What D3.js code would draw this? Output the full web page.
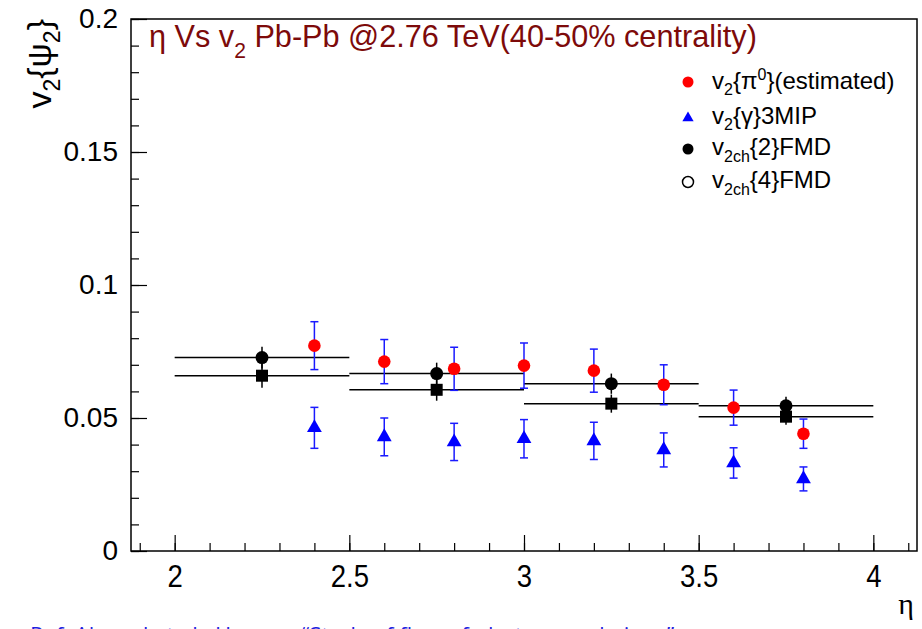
<!DOCTYPE html>
<html lang="en">
<head>
    <meta charset="UTF-8">
    <title>eta vs v2</title>
    <script src="https://d3js.org/d3.v7.min.js"></script>
    <style>
        body { margin: 0; background: white; }
        svg { display: block; }
        text { font-family: "Liberation Sans", Arial, sans-serif; }
    </style>
</head>
<body>
    <svg width="922" height="629"></svg>
    <script>
        // pi0 (estimated) and gamma 3MIP, same eta bins
        var etaPi0 = [2.4, 2.6, 2.8, 3.0, 3.2, 3.4, 3.6, 3.8];
        var v2Pi0 = [0.0772, 0.0712, 0.0685, 0.0697, 0.0678, 0.0625, 0.0539, 0.0441];
        var errPi0 = [0.0090, 0.0083, 0.0081, 0.0085, 0.0081, 0.0075, 0.0066, 0.0055];
        var v2Gamma = [0.0463, 0.0429, 0.0410, 0.0422, 0.0414, 0.0380, 0.0331, 0.0271];
        var errGamma = [0.0077, 0.0071, 0.0070, 0.0072, 0.0070, 0.0064, 0.0057, 0.0045];

        // charged v2 from FMD
        var etaFmd = [2.25, 2.75, 3.25, 3.75];
        var etaFmdErr = [0.25, 0.25, 0.25, 0.25];
        var v2Fmd2 = [0.0727, 0.0667, 0.0629, 0.0546];
        var errFmd2 = [0.0041, 0.0041, 0.0038, 0.0034];
        var v2Fmd4 = [0.0659, 0.0606, 0.0554, 0.0505];
        var errFmd4 = [0.0045, 0.0041, 0.0034, 0.0030];

        var xTicks = [2, 2.5, 3, 3.5, 4];
        var yTicks = [0, 0.05, 0.1, 0.15, 0.2];

        drawChart();

        // squeeze a text horizontally so it fills a given width
        function squeeze(sel, x0, y0, w) {
            var len = sel.node().getComputedTextLength();
            sel.attr('x', 0).attr('y', 0)
                .attr('transform', 'translate(' + x0 + ',' + y0 + ') scale(' + (w / len) + ',1)');
        }

        function drawChart() {
            var svg = d3.select('svg');
            var pl = 131, pr = 917, pt = 19, pb = 551;

            var x = d3.scaleLinear().domain([1.875, 4.125]).range([pl, pr]);
            var y = d3.scaleLinear().domain([0, 0.2]).range([pb, pt]);

            // frame
            svg.append('rect')
                .attr('x', pl).attr('y', pt)
                .attr('width', pr - pl).attr('height', pb - pt)
                .style('fill', 'none').style('stroke', 'black').style('stroke-width', '1.5px');

            // x axis: minor then major ticks (pointing in)
            var xMinor = d3.range(19, 42).map(d => d / 10);
            svg.append('g')
                .attr('transform', 'translate(0,' + pb + ')')
                .call(d3.axisBottom(x).tickValues(xMinor).tickSize(-8).tickFormat(''))
                .call(g => g.select('.domain').remove());
            var xAxis = svg.append('g')
                .attr('transform', 'translate(0,' + pb + ')')
                .call(d3.axisBottom(x).tickValues(xTicks).tickSize(-16).tickFormat(d3.format('')))
                .call(g => g.select('.domain').remove());
            xAxis.selectAll('text')
                .attr('y', 0).attr('dy', null)
                .attr('transform', 'translate(0,36) scale(0.86,1)')
                .style('font-size', '32px');

            var yMinor = d3.range(0, 21).map(d => d / 100);
            svg.append('g')
                .attr('transform', 'translate(' + pl + ',0)')
                .call(d3.axisLeft(y).tickValues(yMinor).tickSize(-8).tickFormat(''))
                .call(g => g.select('.domain').remove());
            var yAxis = svg.append('g')
                .attr('transform', 'translate(' + pl + ',0)')
                .call(d3.axisLeft(y).tickValues(yTicks).tickSize(-16).tickPadding(13).tickFormat(d3.format('')))
                .call(g => g.select('.domain').remove());
            yAxis.selectAll('text').style('font-size', '28px');
            svg.selectAll('.tick line').style('stroke', 'black').style('stroke-width', '1.2px');

            // axis titles
            svg.append('text')
                .attr('x', 914).attr('y', 614)
                .attr('text-anchor', 'end')
                .style('font-family', '"Liberation Serif", serif')
                .style('font-size', '30px')
                .text('η');

            var yTitle = svg.append('text')
                .attr('transform', 'translate(51,19) rotate(-90)')
                .attr('text-anchor', 'end')
                .style('font-size', '34px');
            yTitle.append('tspan').text('v');
            yTitle.append('tspan').attr('dy', 9).style('font-size', '23px').text('2');
            yTitle.append('tspan').attr('dy', -9).text('{ψ');
            yTitle.append('tspan').attr('dy', 9).style('font-size', '23px').text('2');
            yTitle.append('tspan').attr('dy', -9).text('}');

            // title
            var title = svg.append('text')
                .style('fill', '#7d0a0a')
                .style('font-size', '32px');
            title.append('tspan').text('η Vs v');
            title.append('tspan').attr('dy', 11).style('font-size', '22px').text('2');
            title.append('tspan').attr('dy', -11).text(' Pb-Pb @2.76 TeV(40-50% centrality)');
            squeeze(title, 149, 47, 608);

            // FMD x-error lines and y-error lines
            var fmd = etaFmd.map((e, i) => ({ eta: e, ex: etaFmdErr[i], v2: v2Fmd2[i], e2: errFmd2[i], v4: v2Fmd4[i], e4: errFmd4[i] }));
            var fmdG = svg.append('g').style('stroke', 'black').style('stroke-width', '1.5px');
            ['v2', 'v4'].forEach(k => {
                fmdG.selectAll('line.h' + k)
                    .data(fmd).enter().append('line')
                    .attr('x1', d => x(d.eta - d.ex)).attr('x2', d => x(d.eta + d.ex))
                    .attr('y1', d => y(d[k])).attr('y2', d => y(d[k]));
            });
            fmdG.selectAll('line.e2')
                .data(fmd).enter().append('line')
                .attr('x1', d => x(d.eta)).attr('x2', d => x(d.eta))
                .attr('y1', d => y(d.v2 + d.e2)).attr('y2', d => y(d.v2 - d.e2));
            fmdG.selectAll('line.e4')
                .data(fmd).enter().append('line')
                .attr('x1', d => x(d.eta)).attr('x2', d => x(d.eta))
                .attr('y1', d => y(d.v4 + d.e4)).attr('y2', d => y(d.v4 - d.e4));

            // blue error bars with caps
            var pts = etaPi0.map((e, i) => ({ eta: e, pi: v2Pi0[i], ep: errPi0[i], g: v2Gamma[i], eg: errGamma[i] }));
            function errBars(val, err) {
                var g = svg.append('g').style('stroke', '#1a1aff').style('stroke-width', '1.5px');
                g.selectAll('line.v').data(pts).enter().append('line')
                    .attr('x1', d => x(d.eta)).attr('x2', d => x(d.eta))
                    .attr('y1', d => y(d[val] + d[err])).attr('y2', d => y(d[val] - d[err]));
                [1, -1].forEach(s => {
                    g.selectAll('line.c' + (s > 0 ? 'u' : 'd')).data(pts).enter().append('line')
                        .attr('x1', d => x(d.eta) - 4).attr('x2', d => x(d.eta) + 4)
                        .attr('y1', d => y(d[val] + s * d[err])).attr('y2', d => y(d[val] + s * d[err]));
                });
            }
            errBars('pi', 'ep');
            errBars('g', 'eg');

            // markers
            var tri = d3.symbol().type(d3.symbolTriangle).size(95);
            svg.selectAll('path.gamma').data(pts).enter().append('path')
                .attr('d', tri)
                .attr('transform', d => 'translate(' + x(d.eta) + ',' + y(d.g) + ')')
                .style('fill', '#0000ff');
            svg.selectAll('circle.pi').data(pts).enter().append('circle')
                .attr('cx', d => x(d.eta)).attr('cy', d => y(d.pi)).attr('r', 6.3)
                .style('fill', '#ff0000');
            svg.selectAll('circle.fmd2').data(fmd).enter().append('circle')
                .attr('cx', d => x(d.eta)).attr('cy', d => y(d.v2)).attr('r', 6.5)
                .style('fill', 'black');
            svg.selectAll('rect.fmd4').data(fmd).enter().append('rect')
                .attr('x', d => x(d.eta) - 6).attr('y', d => y(d.v4) - 6)
                .attr('width', 12).attr('height', 12)
                .style('fill', 'black');

            // legend
            var leg = svg.append('g').style('font-size', '24px');
            var lx = 688, tx = 712;
            leg.append('circle').attr('cx', lx).attr('cy', 82).attr('r', 5.5).style('fill', '#ff0000');
            leg.append('path').attr('d', d3.symbol().type(d3.symbolTriangle).size(55))
                .attr('transform', 'translate(' + lx + ',118)').style('fill', '#0000ff');
            leg.append('circle').attr('cx', lx).attr('cy', 149).attr('r', 5.5).style('fill', 'black');
            leg.append('circle').attr('cx', lx).attr('cy', 182).attr('r', 5.5)
                .style('fill', 'none').style('stroke', 'black').style('stroke-width', '1.5px');

            var t1 = leg.append('text').attr('x', tx).attr('y', 89);
            t1.append('tspan').text('v');
            t1.append('tspan').attr('dy', 6).style('font-size', '16px').text('2');
            t1.append('tspan').attr('dy', -6).text('{π');
            t1.append('tspan').attr('dy', -9).style('font-size', '16px').text('0');
            t1.append('tspan').attr('dy', 9).text('}(estimated)');

            var t2 = leg.append('text').attr('x', tx).attr('y', 124);
            t2.append('tspan').text('v');
            t2.append('tspan').attr('dy', 6).style('font-size', '16px').text('2');
            t2.append('tspan').attr('dy', -6).text('{γ}3MIP');

            [['2', 155], ['4', 188]].forEach(r => {
                var t = leg.append('text').attr('x', tx).attr('y', r[1]);
                t.append('tspan').text('v');
                t.append('tspan').attr('dy', 7).style('font-size', '16px').text('2ch');
                t.append('tspan').attr('dy', -7).text('{' + r[0] + '}FMD');
            });

            // reference line, cut off at the bottom edge
            svg.append('text')
                .attr('x', 30).attr('y', 643)
                .style('fill', '#1f1fe0')
                .style('font-family', '"Open Sans", sans-serif')
                .style('font-size', '22px')
                .text('Ref: Ahmed et al., Hassan, “Study of flow of photons and pions”');
        }
    </script>
</body>
</html>
